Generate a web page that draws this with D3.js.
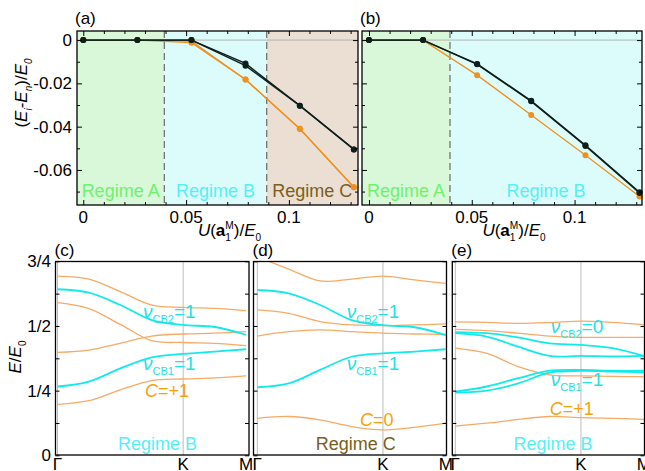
<!DOCTYPE html>
<html><head><meta charset="utf-8">
<script src="https://cdn.jsdelivr.net/npm/d3@7"></script>
<style>body{margin:0;background:#fff} text{font-family:"Liberation Sans",Arial,sans-serif}</style>
</head><body><svg id="chart" width="645" height="471"></svg>
<script>
// ---------- data: top panels ----------
const U = [0, 0.0263, 0.0526, 0.0789, 0.1053, 0.1316];
const aBlack1 = [0, 0, 0, -0.0108, -0.0303, -0.0505];
const aBlack2 = [0, 0, 0, -0.0118, -0.0303, -0.0505];
const aOrange1 = [0, 0, -0.0005, -0.0182, -0.0410, -0.0680];
const aOrange2 = [0, 0, -0.0012, -0.0182, -0.0410, -0.0680];
const bBlack1 = [0, 0, -0.0110, -0.0280, -0.0486, -0.0703];
const bBlack2 = [0, 0, -0.0112, -0.0283, -0.0489, -0.0706];
const bOrange = [0, 0, -0.0162, -0.0346, -0.0532, -0.0723];
const regimeBounds = [0.0394, 0.0892];
const xMajorTop = [0, 0.05, 0.1];
const xMinorTop = [0.01,0.02,0.03,0.04,0.06,0.07,0.08,0.09,0.11,0.12,0.13];
const yMajorTop = [0, -0.02, -0.04, -0.06];
const yMinorTop = [-0.01, -0.03, -0.05, -0.07];

// ---------- data: band panels ----------
const kPos = [0, 0.25, 0.5, 0.75, 1, 1.25, 1.5];
const kTicks = [0, 1, 1.5];
const kLabels = ["Γ", "K", "M"];
const eTicks = [0, 0.125, 0.25, 0.375, 0.5, 0.625, 0.75];
const eLabels = ["0", "", "1/4", "", "1/2", "", "3/4"];
const cOrange = [
  [0.197, 0.211, 0.253, 0.289, 0.295, 0.299, 0.307],
  [0.398, 0.407, 0.433, 0.461, 0.469, 0.472, 0.478],
  [0.590, 0.567, 0.506, 0.443, 0.436, 0.433, 0.424],
  [0.693, 0.681, 0.633, 0.581, 0.572, 0.568, 0.559]
];
const cCyan = [
  [0.266, 0.285, 0.336, 0.379, 0.392, 0.401, 0.410],
  [0.642, 0.629, 0.581, 0.523, 0.504, 0.496, 0.466]
];
const dOrange = [
  [0.143, 0.150, 0.137, 0.111, 0.098, 0.108, 0.124],
  [0.461, 0.478, 0.485, 0.478, 0.472, 0.469, 0.467],
  [0.562, 0.549, 0.517, 0.504, 0.501, 0.504, 0.508],
  [0.768, 0.720, 0.674, 0.681, 0.693, 0.678, 0.665]
];
const dCyan = [
  [0.263, 0.278, 0.330, 0.381, 0.394, 0.401, 0.410],
  [0.639, 0.626, 0.581, 0.523, 0.503, 0.495, 0.465]
];
const eOrange = [
  [0.113, 0.124, 0.139, 0.150, 0.146, 0.143, 0.139],
  [0.414, 0.394, 0.343, 0.311, 0.307, 0.305, 0.304],
  [0.487, 0.482, 0.472, 0.461, 0.456, 0.456, 0.456],
  [0.516, 0.514, 0.510, 0.513, 0.519, 0.514, 0.505]
];
const eCyan = [
  [0.246, 0.266, 0.298, 0.327, 0.330, 0.327, 0.327],
  [0.242, 0.250, 0.278, 0.320, 0.326, 0.324, 0.321],
  [0.476, 0.472, 0.456, 0.433, 0.427, 0.414, 0.384],
  [0.472, 0.459, 0.420, 0.384, 0.384, 0.382, 0.384]
];

// ---------- styles ----------
const COL = {
  green: "#d9f8d9", cyan: "#dcfcfc", brown: "#ebdfd4",
  regA: "#6ef26e", regB: "#55f0f6", regC: "#7a5e1c",
  black: "#0e1f1b", orange: "#f0901e",
  band: "#f6aa66", bandCyan: "#12eaea", lblCyan: "#22e2e6", lblOrange: "#f5a20a"
};

const svg = d3.select("#chart");

function rich(parent, pieces, o) {
  const g = parent.append("g");
  const inner = g.append("g");
  let cx = 0;
  pieces.forEach(p => {
    if (p.stack) {
      let w = 0;
      p.stack.forEach((s, i) => {
        const t = inner.append("text").attr("x", cx)
          .attr("y", i === 0 ? -o.size * 0.42 : o.size * 0.28)
          .attr("font-size", o.size * 0.6).attr("fill", o.fill).text(s);
        w = Math.max(w, t.node().getComputedTextLength());
      });
      cx += w;
    } else {
      const t = inner.append("text").attr("x", cx).attr("y", p.dy || 0)
        .attr("font-size", p.size || o.size)
        .attr("font-style", p.italic ? "italic" : null)
        .attr("font-weight", p.bold ? "bold" : null)
        .attr("fill", o.fill).text(p.t);
      cx += t.node().getComputedTextLength() + (p.dx || 0);
    }
  });
  const shift = o.anchor === "middle" ? -cx / 2 : o.anchor === "end" ? -cx : 0;
  inner.attr("transform", `translate(${shift},0)`);
  g.attr("transform", `translate(${o.x},${o.y})` + (o.rotate ? ` rotate(${o.rotate})` : ""));
  return g;
}

// ---------- top panels ----------
const yTop = d3.scaleLinear().domain([-0.0762, 0.0042]).range([205, 31]);
const topPanels = [
  { id: "a", x0: 77, x1: 358, dom: [-0.00306, 0.1336], regions: [COL.green, COL.cyan, COL.brown],
    regLabels: [["Regime A", COL.regA, 0], ["Regime B", COL.regB, 1], ["Regime C", COL.regC, 2]],
    black: [aBlack1, aBlack2], orange: [aOrange1, aOrange2], yLabels: true, lbl: "(a)" },
  { id: "b", x0: 362, x1: 642, dom: [-0.0034, 0.1328], regions: [COL.green, COL.cyan],
    regLabels: [["Regime A", COL.regA, 0], ["Regime B", COL.regB, 1]],
    black: [bBlack1, bBlack2], orange: [bOrange], yLabels: false, lbl: "(b)" }
];

topPanels.forEach(P => {
  const x = d3.scaleLinear().domain(P.dom).range([P.x0, P.x1]);
  const g = svg.append("g");
  const edges = [P.dom[0], ...regimeBounds.slice(0, P.regions.length - 1), P.dom[1]];
  P.regions.forEach((c, i) => {
    g.append("rect").attr("x", x(edges[i])).attr("y", yTop.range()[1])
      .attr("width", x(edges[i + 1]) - x(edges[i])).attr("height", yTop.range()[0] - yTop.range()[1])
      .attr("fill", c);
  });
  g.append("line").attr("x1", P.x0).attr("x2", P.x1).attr("y1", yTop(0)).attr("y2", yTop(0))
    .attr("stroke", "#b4b4b4").attr("stroke-width", 1);
  regimeBounds.slice(0, P.regions.length - 1).forEach(b => {
    g.append("line").attr("x1", x(b)).attr("x2", x(b)).attr("y1", 31).attr("y2", 205)
      .attr("stroke", "#6a6a6a").attr("stroke-width", 1.2).attr("stroke-dasharray", "7,4");
  });
  P.regLabels.forEach(([t, c, i]) => {
    const cx = (x(edges[i]) + x(edges[i + 1])) / 2;
    g.append("text").attr("x", cx).attr("y", 197).attr("text-anchor", "middle")
      .attr("font-size", 18).attr("fill", c).text(t);
  });
  const line = d3.line().x((d, i) => x(U[i])).y(d => yTop(d));
  P.orange.forEach(s => {
    g.append("path").attr("d", line(s)).attr("fill", "none").attr("stroke", COL.orange).attr("stroke-width", 1.3);
    g.selectAll(null).data(s).enter().append("circle").attr("cx", (d, i) => x(U[i])).attr("cy", d => yTop(d))
      .attr("r", 3).attr("fill", COL.orange);
  });
  P.black.forEach(s => {
    g.append("path").attr("d", line(s)).attr("fill", "none").attr("stroke", COL.black).attr("stroke-width", 1.4);
    g.selectAll(null).data(s).enter().append("circle").attr("cx", (d, i) => x(U[i])).attr("cy", d => yTop(d))
      .attr("r", 3).attr("fill", COL.black);
  });
  const mk = (axis, tr) => {
    const a = g.append("g").attr("transform", tr).call(axis);
    a.select(".domain").remove();
    a.selectAll(".tick line").attr("stroke", "#000");
    return a;
  };
  mk(d3.axisBottom(x).tickValues(xMajorTop).tickSize(-5).tickFormat(""), `translate(0,205)`);
  mk(d3.axisBottom(x).tickValues(xMinorTop).tickSize(-3).tickFormat(""), `translate(0,205)`);
  mk(d3.axisTop(x).tickValues(xMajorTop).tickSize(-5).tickFormat(""), `translate(0,31)`);
  mk(d3.axisTop(x).tickValues(xMinorTop).tickSize(-3).tickFormat(""), `translate(0,31)`);
  mk(d3.axisLeft(yTop).tickValues(yMajorTop).tickSize(-5).tickFormat(""), `translate(${P.x0},0)`);
  mk(d3.axisLeft(yTop).tickValues(yMinorTop).tickSize(-3).tickFormat(""), `translate(${P.x0},0)`);
  mk(d3.axisRight(yTop).tickValues(yMajorTop).tickSize(-5).tickFormat(""), `translate(${P.x1},0)`);
  mk(d3.axisRight(yTop).tickValues(yMinorTop).tickSize(-3).tickFormat(""), `translate(${P.x1},0)`);
  xMajorTop.forEach(v => {
    g.append("text").attr("x", x(v)).attr("y", 222.5).attr("text-anchor", "middle")
      .attr("font-size", 17).text(v === 0 ? "0" : String(v));
  });
  if (P.yLabels) {
    yMajorTop.forEach(v => {
      g.append("text").attr("x", 72).attr("y", yTop(v)).attr("dy", "0.36em").attr("text-anchor", "end")
        .attr("font-size", 17).text(v === 0 ? "0" : d3.format(".2f")(v).replace("−", "-"));
    });
  }
  g.append("rect").attr("x", P.x0).attr("y", 31).attr("width", P.x1 - P.x0).attr("height", 174)
    .attr("fill", "none").attr("stroke", "#000").attr("stroke-width", 1.3);
  svg.append("text").attr("x", P.x0 - 2).attr("y", 24).attr("font-size", 17).text(P.lbl);
  rich(svg, [{ t: "U", italic: true }, { t: "(" }, { t: "a", bold: true }, { stack: ["M", "1"] },
    { t: ")/" }, { t: "E", italic: true }, { t: "0", size: 10, dy: 5 }],
    { x: (P.x0 + P.x1) / 2 + 12, y: 236, size: 17, fill: "#000", anchor: "middle" });
});

rich(svg, [{ t: "(" }, { t: "E", italic: true }, { t: "i", italic: true, size: 10, dy: 5 }, { t: "-" },
  { t: "E", italic: true }, { t: "n", italic: true, size: 10, dy: 5 }, { t: ")/" }, { t: "E", italic: true },
  { t: "0", italic: true, size: 10, dy: 5 }],
  { x: 27, y: 93, size: 17, fill: "#000", anchor: "middle", rotate: -90 });

// ---------- band panels ----------
const yBand = d3.scaleLinear().domain([0, 0.75]).range([455.3, 261.3]);
const bandPanels = [
  { lbl: "(c)", f0: 55.5, f1: 249, g0: 57.5, orange: cOrange, cyan: cCyan, yLabels: true,
    texts: [["CB2", "=1", 143, 318], ["CB1", "=1", 143, 370]], cText: ["C=+1", 145, 397],
    reg: ["Regime B", COL.regB, 157.5] },
  { lbl: "(d)", f0: 253.5, f1: 446.5, g0: 257.3, orange: dOrange, cyan: dCyan, yLabels: false,
    texts: [["CB2", "=1", 346.7, 318], ["CB1", "=1", 346.7, 370]], cText: ["C=0", 360, 426],
    reg: ["Regime C", COL.regC, 355.8] },
  { lbl: "(e)", f0: 452.3, f1: 644.5, g0: 455.3, orange: eOrange, cyan: eCyan, yLabels: false,
    texts: [["CB2", "=0", 550.7, 333], ["CB1", "=1", 550.7, 386]], cText: ["C=+1", 549.7, 415],
    reg: ["Regime B", COL.regB, 553] }
];

bandPanels.forEach((P, pi) => {
  const x = d3.scaleLinear().domain([0, 1.5]).range([P.g0, P.g0 + 188.5]);
  const g = svg.append("g");
  const clipId = "clip" + pi;
  svg.append("clipPath").attr("id", clipId).append("rect")
    .attr("x", P.f0).attr("y", 261.5).attr("width", P.f1 - P.f0).attr("height", 455 - 261.5);
  [0, 1].forEach(k => {
    g.append("line").attr("x1", x(k)).attr("x2", x(k)).attr("y1", 261.5).attr("y2", 455)
      .attr("stroke", "#bdbdbd").attr("stroke-width", 1);
  });
  const line = d3.line().x((d, i) => x(kPos[i])).y(d => yBand(d)).curve(d3.curveCatmullRom.alpha(0.5));
  const cl = g.append("g").attr("clip-path", `url(#${clipId})`);
  P.orange.forEach(s => cl.append("path").attr("d", line(s)).attr("fill", "none")
    .attr("stroke", COL.band).attr("stroke-width", 1.3));
  P.cyan.forEach(s => cl.append("path").attr("d", line(s)).attr("fill", "none")
    .attr("stroke", COL.bandCyan).attr("stroke-width", 1.8));
  const yl = g.append("g").attr("transform", `translate(${P.f0},0)`)
    .call(d3.axisLeft(yBand).tickValues(eTicks).tickSize(-4).tickFormat(""));
  yl.select(".domain").remove();
  const yr = g.append("g").attr("transform", `translate(${P.f1},0)`)
    .call(d3.axisRight(yBand).tickValues(eTicks).tickSize(-4).tickFormat(""));
  yr.select(".domain").remove();
  if (P.yLabels) {
    eTicks.forEach((v, i) => {
      if (!eLabels[i]) return;
      g.append("text").attr("x", 51).attr("y", Math.max(yBand(v), 257)).attr("dy", "0.36em")
        .attr("text-anchor", "end").attr("font-size", 17).text(eLabels[i]);
    });
  }
  kTicks.forEach((k, i) => {
    g.append("text").attr("x", x(k)).attr("y", 469.5).attr("text-anchor", "middle")
      .attr("font-size", 17).text(kLabels[i]);
  });
  g.append("rect").attr("x", P.f0).attr("y", 261.5).attr("width", P.f1 - P.f0).attr("height", 455 - 261.5)
    .attr("fill", "none").attr("stroke", "#000").attr("stroke-width", 1.3);
  P.texts.forEach(([sub, rest, tx, ty]) => {
    rich(g, [{ t: "ν", italic: true, size: 19 }, { t: sub, size: 11, dy: 5 }, { t: rest, size: 19 }],
      { x: tx, y: ty, size: 19, fill: COL.lblCyan, anchor: "start" });
  });
  const [ct, cx, cy] = P.cText;
  rich(g, [{ t: "C", italic: true }, { t: ct.slice(1) }], { x: cx, y: cy, size: 18, fill: COL.lblOrange, anchor: "start" });
  g.append("text").attr("x", P.reg[2]).attr("y", 450).attr("text-anchor", "middle")
    .attr("font-size", 18).attr("fill", P.reg[1]).text(P.reg[0]);
  svg.append("text").attr("x", P.f0 - 1).attr("y", 256).attr("font-size", 17).text(P.lbl);
});

rich(svg, [{ t: "E", italic: true }, { t: "/" }, { t: "E", italic: true }, { t: "0", size: 10, dy: 5 }],
  { x: 21, y: 357, size: 17, fill: "#000", anchor: "middle", rotate: -90 });
</script>
</body></html>
